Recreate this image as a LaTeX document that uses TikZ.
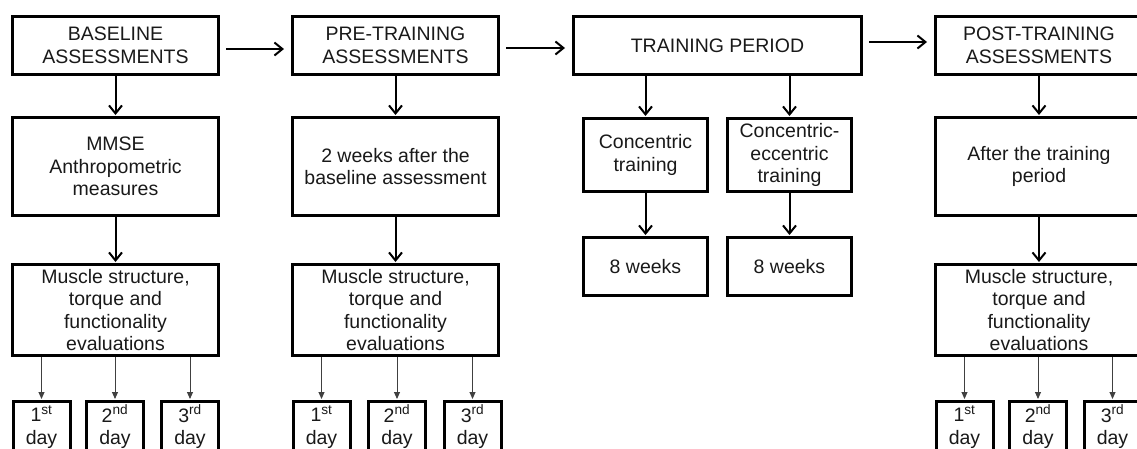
\documentclass[tikz,border=0pt]{standalone}
\usepackage{fontspec}
\setmainfont{Liberation Sans}
\usetikzlibrary{arrows.meta}
\begin{document}
\begin{tikzpicture}[x=1pt,y=-1pt,
  box/.style={draw=black,line width=3pt,inner sep=0pt,align=center,
    font=\fontsize{19.5}{22.5}\selectfont,text=black!90},
  arr/.style={line width=2pt,-{Straight Barb[length=8pt,width=13pt,line width=2pt]}},
  dayarr/.style={line width=0.9pt,draw=black!75,-{Triangle[length=7pt,width=6pt]}},
  daybox/.style={box,minimum width=57pt,minimum height=51pt}]
\useasboundingbox (0,0) rectangle (1137,448);
\clip (0,0) rectangle (1137,448);
% row 1
\node[box,minimum width=206pt,minimum height=58pt] (base) at (115.5,45.5) {BASELINE\\ASSESSMENTS};
\node[box,minimum width=206pt,minimum height=58pt] (pre) at (395.5,45.5) {PRE-TRAINING\\ASSESSMENTS};
\node[box,minimum width=288pt,minimum height=58pt] (train) at (717.5,45.5) {TRAINING PERIOD};
\node[box,minimum width=207pt,minimum height=58pt] (post) at (1039,45.5) {POST-TRAINING\\ASSESSMENTS};
% row 2
\node[box,minimum width=206pt,minimum height=98pt] (mmse) at (115.5,166.5) {MMSE\\Anthropometric\\measures};
\node[box,minimum width=206pt,minimum height=98pt] (pre2) at (395.5,166.5) {2 weeks after the\\baseline assessment};
\node[box,minimum width=207pt,minimum height=98pt] (post2) at (1039,166.5) {After the training\\period};
\node[box,minimum width=124pt,minimum height=73pt] (conc) at (645.5,155) {Concentric\\training};
\node[box,minimum width=124pt,minimum height=73pt] (ecc) at (789.5,155) {Concentric-\\eccentric\\training};
\node[box,minimum width=124pt,minimum height=58pt] (w1) at (645.5,266.5) {8 weeks};
\node[box,minimum width=124pt,minimum height=58pt] (w2) at (789.5,266.5) {8 weeks};
% row 3
\node[box,minimum width=206pt,minimum height=91pt] (m1) at (115.5,310) {Muscle structure,\\torque and\\functionality\\evaluations};
\node[box,minimum width=206pt,minimum height=91pt] (m2) at (395.5,310) {Muscle structure,\\torque and\\functionality\\evaluations};
\node[box,minimum width=207pt,minimum height=91pt] (m3) at (1039,310) {Muscle structure,\\torque and\\functionality\\evaluations};
% days
\node[daybox] (a1) at (41.5,427) {1\textsuperscript{st}\\day};
\node[daybox] (a2) at (115,427) {2\textsuperscript{nd}\\day};
\node[daybox] (a3) at (190,427) {3\textsuperscript{rd}\\day};
\node[daybox] (b1) at (321.5,427) {1\textsuperscript{st}\\day};
\node[daybox] (b2) at (397,427) {2\textsuperscript{nd}\\day};
\node[daybox] (b3) at (472.5,427) {3\textsuperscript{rd}\\day};
\node[daybox] (c1) at (964.5,427) {1\textsuperscript{st}\\day};
\node[daybox] (c2) at (1038,427) {2\textsuperscript{nd}\\day};
\node[daybox] (c3) at (1112.5,427) {3\textsuperscript{rd}\\day};
% horizontal arrows
\draw[arr,shorten <=6pt,shorten >=7pt] ([yshift=-3.5pt]base.east) -- ([yshift=-3.5pt]pre.west);
\draw[arr,shorten <=6pt,shorten >=7pt] ([yshift=-2.5pt]pre.east) -- ([yshift=-2.5pt]train.west);
\draw[arr,shorten <=6pt,shorten >=7pt] ([yshift=3.5pt]train.east) -- ([yshift=3.5pt]post.west);
% vertical arrows
\draw[arr,shorten >=1pt] (base.south) -- (mmse.north);
\draw[arr,shorten >=1pt] (mmse.south) -- (m1.north);
\draw[arr,shorten >=1pt] (pre.south) -- (pre2.north);
\draw[arr,shorten >=1pt] (pre2.south) -- (m2.north);
\draw[arr,shorten >=1pt] (post.south) -- (post2.north);
\draw[arr,shorten >=1pt] (post2.south) -- (m3.north);
\draw[arr,shorten >=1pt] (train.south -| conc) -- (conc.north);
\draw[arr,shorten >=1pt] (train.south -| ecc) -- (ecc.north);
\draw[arr,shorten >=1pt] (conc.south) -- (w1.north);
\draw[arr,shorten >=1pt] (ecc.south) -- (w2.north);
% day arrows
\foreach \m/\d in {m1/a1,m1/a2,m1/a3,m2/b1,m2/b2,m2/b3,m3/c1,m3/c2,m3/c3}
  \draw[dayarr,shorten >=1pt] (\m.south -| \d) -- (\d.north);
\end{tikzpicture}
\end{document}
